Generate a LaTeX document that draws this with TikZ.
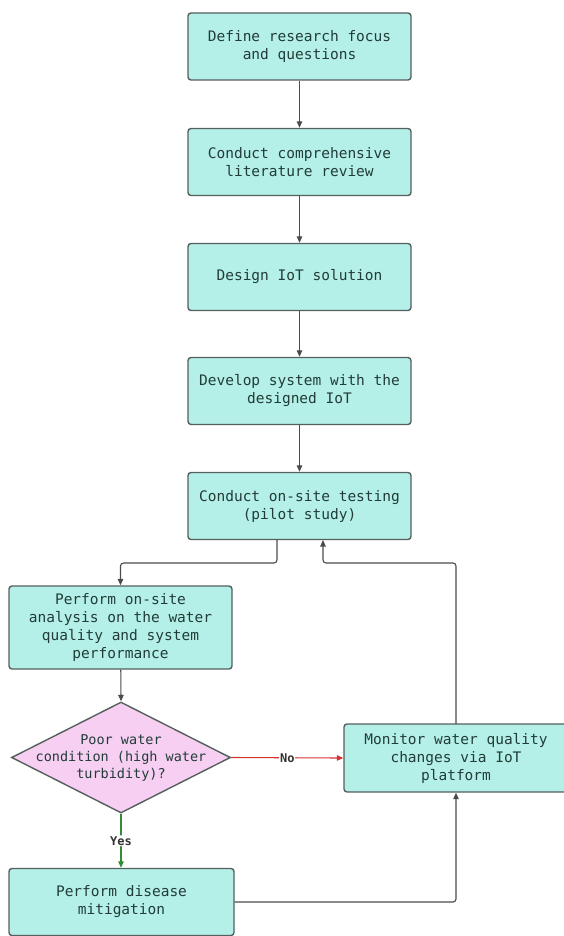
\documentclass[tikz,border=0pt]{standalone}
\usepackage{fontspec}
\setmonofont{DejaVu Sans Mono}
\usetikzlibrary{arrows.meta,shapes.geometric}
\definecolor{boxfill}{RGB}{180,240,231}
\definecolor{boxline}{RGB}{85,95,93}
\definecolor{txt}{RGB}{34,60,56}
\definecolor{pinkfill}{RGB}{247,207,242}
\definecolor{conn}{RGB}{75,75,75}
\definecolor{nored}{RGB}{215,50,50}
\definecolor{yesgreen}{RGB}{50,140,50}
\tikzset{
  stepbox/.style={draw=boxline, line width=1.4pt, fill=boxfill, rounded corners=3pt,
    minimum width=223pt, minimum height=67pt, inner sep=0pt, align=center,
    text=txt, font=\ttfamily\fontsize{14.5}{18}\selectfont},
  decbox/.style={draw=boxline, line width=1.4pt, fill=pinkfill, shape=diamond,
    minimum width=219pt, minimum height=111pt, inner sep=0pt},
  dectext/.style={align=center, text=txt, font=\ttfamily\fontsize{13.5}{17}\selectfont},
  conn/.style={draw=conn, line width=1.1pt, rounded corners=3pt,
    -{Triangle[width=5.5pt,length=6.5pt]}},
  lbl/.style={fill=white, inner sep=1pt, text=black!80, font=\ttfamily\bfseries\fontsize{12}{14}\selectfont}
}
\begin{document}
\begin{tikzpicture}[x=1pt,y=-1pt]
\useasboundingbox (0,0) rectangle (564,936);
\node[stepbox] (b1) at (299.5,46.5) {Define research focus\\and questions};
\node[stepbox] (b2) at (299.5,162) {Conduct comprehensive\\literature review};
\node[stepbox] (b3) at (299.5,277) {Design IoT solution};
\node[stepbox] (b4) at (299.5,391) {Develop system with the\\designed IoT};
\node[stepbox] (b5) at (299.5,506) {Conduct on-site testing\\(pilot study)};
\node[stepbox, minimum height=83pt] (an) at (120.5,627.5) {Perform on-site\\analysis on the water\\quality and system\\performance};
\node[decbox] (dia) at (121,757.5) {};
\node[dectext] (diat) at (dia.center) {Poor water\\condition (high water\\turbidity)?};
\node[stepbox, minimum width=224pt, minimum height=68pt] (mon) at (456,758) {Monitor water quality\\changes via IoT\\platform};
\node[stepbox, minimum width=225pt] (dis) at (121.5,902) {Perform disease\\mitigation};

\coordinate (b5out) at (277,540);
\coordinate (b5in) at (323,540);
\coordinate (monout) at (456,724);
\draw[conn] (b1) -- (b2);
\draw[conn] (b2) -- (b3);
\draw[conn] (b3) -- (b4);
\draw[conn] (b4) -- (b5);
\draw[conn] (b5out) -- (277,563) -- (120.5,563) -- (an.north);
\draw[conn] (monout) -- (456,563) -- (323,563) -- (b5in);
\draw[conn] (an) -- (dia.north);
\draw[conn, draw=nored] (dia.east) -- node[lbl]{No} (mon.west);
\draw[conn, draw=yesgreen] (dia.south) -- node[lbl, pos=0.5]{Yes} (dis.north -| dia.south);
\draw[conn] (dis.east) -| (mon.south);
\end{tikzpicture}
\end{document}
